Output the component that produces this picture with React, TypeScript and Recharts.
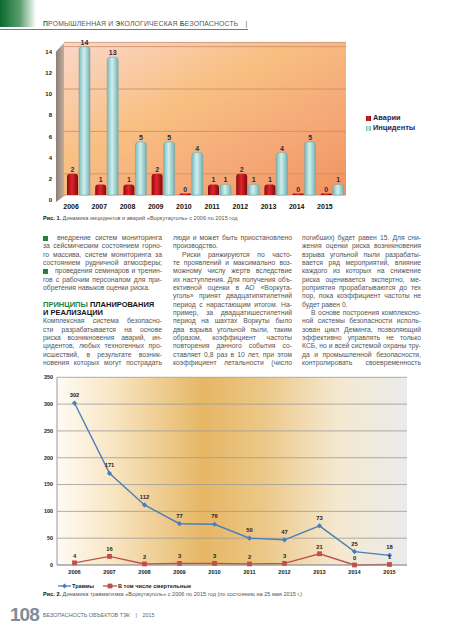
import type { ReactNode } from "react";
import {
  Bar,
  BarChart,
  CartesianGrid,
  LabelList,
  Legend,
  Line,
  LineChart,
  XAxis,
  YAxis,
} from "recharts";

const years = ["2006", "2007", "2008", "2009", "2010", "2011", "2012", "2013", "2014", "2015"];
const accidents = [2, 1, 1, 2, 0, 1, 2, 1, 0, 0];
const incidents = [14, 13, 5, 5, 4, 1, 1, 4, 5, 1];
const injuries = [302, 171, 112, 77, 76, 50, 47, 73, 25, 18];
const fatalInjuries = [4, 16, 2, 3, 3, 2, 3, 21, 0, 1];
const barTicks = [0, 2, 4, 6, 8, 10, 12, 14];
const lineTicks = [0, 50, 100, 150, 200, 250, 300, 350];

const barData = years.map((year, i) => ({ year, accidents: accidents[i], incidents: incidents[i] }));
const lineData = years.map((year, i) => ({ year, injuries: injuries[i], fatal: fatalInjuries[i] }));

const FONT = "'Liberation Sans', Arial, sans-serif";
const NARROW = "'Liberation Sans Narrow', 'Arial Narrow', 'Liberation Sans', sans-serif";
const GREEN = "#23823f";
const LINE_H = 8.33;

interface TextLine {
  text: string;
  end?: boolean;
  indent?: boolean;
  bullet?: boolean;
  head?: ReactNode;
}

const column1: TextLine[] = [
  { text: "внедрение систем мониторинга", bullet: true },
  { text: "за сейсмическим состоянием горно-" },
  { text: "го массива, систем мониторинга за" },
  { text: "состоянием рудничной атмосферы;" },
  { text: "проведения семинаров и тренин-", bullet: true },
  { text: "гов с рабочим персоналом для при-" },
  { text: "обретения навыков оценки риска.", end: true },
  { text: "", end: true },
  { text: "", head: <><span style={{ color: GREEN }}>ПРИНЦИПЫ</span> ПЛАНИРОВАНИЯ</> },
  { text: "", head: "И РЕАЛИЗАЦИИ" },
  { text: "Комплексная система безопасно-" },
  { text: "сти разрабатывается на основе" },
  { text: "риска возникновения аварий, ин-" },
  { text: "цидентов, любых техногенных про-" },
  { text: "исшествий, в результате возник-" },
  { text: "новения которых могут пострадать" },
];

const column2: TextLine[] = [
  { text: "люди и может быть приостановлено" },
  { text: "производство.", end: true },
  { text: "Риски ранжируются по часто-", indent: true },
  { text: "те проявлений и максимально воз-" },
  { text: "можному числу жертв вследствие" },
  { text: "их наступления. Для получения объ-" },
  { text: "ективной оценки в АО «Воркута-" },
  { text: "уголь» принят двадцатипятилетний" },
  { text: "период с нарастающим итогом. На-" },
  { text: "пример, за двадцатишестилетний" },
  { text: "период на шахтах Воркуты было" },
  { text: "два взрыва угольной пыли, таким" },
  { text: "образом, коэффициент частоты" },
  { text: "повторения данного события со-" },
  { text: "ставляет 0,8 раз в 10 лет, при этом" },
  { text: "коэффициент летальности (число" },
];

const column3: TextLine[] = [
  { text: "погибших) будет равен 15. Для сни-" },
  { text: "жения оценки риска возникновения" },
  { text: "взрыва угольной пыли разрабаты-" },
  { text: "вается ряд мероприятий, влияние" },
  { text: "каждого из которых на снижение" },
  { text: "риска оценивается экспертно, ме-" },
  { text: "роприятия прорабатываются до тех" },
  { text: "пор, пока коэффициент частоты не" },
  { text: "будет равен 0.", end: true },
  { text: "В основе построения комплексно-", indent: true },
  { text: "ной системы безопасности исполь-" },
  { text: "зован цикл Деминга, позволяющий" },
  { text: "эффективно управлять не только" },
  { text: "КСБ, но и всей системой охраны тру-" },
  { text: "да и промышленной безопасности," },
  { text: "контролировать своевременность" },
];

function TextColumn({ left, lines }: { left: number; lines: TextLine[] }) {
  return (
    <div style={{ position: "absolute", left, top: 234.1, width: 119 }}>
      {lines.map((line, i) =>
        line.head ? (
          <div
            key={i}
            style={{ height: LINE_H, lineHeight: `${LINE_H}px`, fontSize: 7.5, fontWeight: 700, color: "#161616", whiteSpace: "nowrap" }}
          >
            {line.head}
          </div>
        ) : (
          <div
            key={i}
            style={{
              height: LINE_H,
              lineHeight: `${LINE_H}px`,
              fontSize: 6.8,
              color: "#555",
              display: "flex",
              alignItems: "center",
              justifyContent: line.end ? "flex-start" : "space-between",
              gap: line.end ? "0.28em" : 0,
              paddingLeft: line.indent ? 9 : 0,
              whiteSpace: "nowrap",
            }}
          >
            {line.bullet && (
              <span style={{ display: "inline-block", width: 4.5, height: 4.5, background: GREEN, marginRight: 5 }} />
            )}
            {line.text
              .split(" ")
              .filter((w) => w.length > 0)
              .map((word, j) => (
                <span key={j}>{word}</span>
              ))}
          </div>
        )
      )}
    </div>
  );
}

function Diamond(props: any) {
  const { cx, cy } = props;
  if (cx == null || cy == null) return null;
  return <path d={`M${cx},${cy - 2.6}L${cx + 2.6},${cy}L${cx},${cy + 2.6}L${cx - 2.6},${cy}Z`} fill="#4a7ebb" />;
}

function Square(props: any) {
  const { cx, cy } = props;
  if (cx == null || cy == null) return null;
  return <rect x={cx - 2.4} y={cy - 2.4} width={4.8} height={4.8} fill="#c0504d" />;
}

function LineLegend() {
  return (
    <div style={{ display: "flex", alignItems: "center", fontFamily: FONT, fontSize: 5.6, fontWeight: 700, color: "#222" }}>
      <svg width={13} height={6}>
        <line x1={0} y1={3} x2={13} y2={3} stroke="#4a7ebb" strokeWidth={1.3} />
        <path d="M6.5,0.6L8.9,3L6.5,5.4L4.1,3Z" fill="#4a7ebb" />
      </svg>
      <span style={{ marginLeft: 1, marginRight: 9 }}>Травмы</span>
      <svg width={14} height={6}>
        <line x1={0} y1={3} x2={14} y2={3} stroke="#c0504d" strokeWidth={1.3} />
        <rect x={4.6} y={0.6} width={4.8} height={4.8} fill="#c0504d" />
      </svg>
      <span style={{ marginLeft: 1 }}>В том числе смертельные</span>
    </div>
  );
}

export default function App() {
  return (
    <div
      style={{
        position: "absolute",
        left: 0,
        top: 0,
        width: 453,
        height: 640,
        overflow: "hidden",
        background: "#fff",
        fontFamily: FONT,
      }}
    >
      {/* page header */}
      <div
        style={{
          position: "absolute",
          left: 0,
          top: 0,
          width: 36,
          height: 27,
          background: "linear-gradient(90deg, #0a6a2c 0%, #5a9e6e 55%, #ffffff 100%)",
        }}
      />
      <div
        style={{
          position: "absolute",
          left: 43,
          top: 19.5,
          fontSize: 6.8,
          color: "#555",
          whiteSpace: "nowrap",
          letterSpacing: 0.2,
        }}
      >
        <span style={{ color: GREEN, fontWeight: 700 }}>П</span>РОМЫШЛЕННАЯ И{" "}
        <span style={{ color: GREEN, fontWeight: 700 }}>Э</span>КОЛОГИЧЕСКАЯ{" "}
        <span style={{ color: GREEN, fontWeight: 700 }}>Б</span>ЕЗОПАСНОСТЬ
        <span style={{ marginLeft: 7 }}>|</span>
      </div>
      <div style={{ position: "absolute", left: 0, top: 28.5, width: 248, height: 1, background: "#777" }} />

      {/* fig 1 side wall */}
      <div
        style={{
          position: "absolute",
          left: 56,
          top: 42,
          width: 9,
          height: 160,
          background: "linear-gradient(90deg, #8f7d73 0%, #c9b3a3 100%)",
          clipPath: "polygon(0 6%, 100% 0, 100% 96%, 0 100%)",
        }}
      />
      <div style={{ position: "absolute", left: 0, top: 0 }}>
        <BarChart
          width={453}
          height={215}
          data={barData}
          margin={{ top: 42.4, right: 107, bottom: 0, left: 44 }}
          barSize={11}
          barGap={1}
        >
          <defs>
            <linearGradient id="wall1" x1="0" y1="0" x2="1" y2="1">
              <stop offset="0%" stopColor="#fbd7c9" />
              <stop offset="40%" stopColor="#f8bf82" />
              <stop offset="70%" stopColor="#f5a977" />
              <stop offset="100%" stopColor="#f1935f" />
            </linearGradient>
            <linearGradient id="redBar" x1="0" y1="0" x2="1" y2="0">
              <stop offset="0%" stopColor="#8a0b10" />
              <stop offset="45%" stopColor="#e0262b" />
              <stop offset="100%" stopColor="#7d0a0e" />
            </linearGradient>
            <linearGradient id="cyanBar" x1="0" y1="0" x2="1" y2="0">
              <stop offset="0%" stopColor="#7fb9ba" />
              <stop offset="45%" stopColor="#cdf0ef" />
              <stop offset="100%" stopColor="#78b1b2" />
            </linearGradient>
          </defs>
          <CartesianGrid vertical={false} stroke="#c88c6c" strokeWidth={0.8} fill="url(#wall1)" />
          <XAxis
            dataKey="year"
            height={20}
            axisLine={false}
            tickLine={false}
            interval={0}
            tick={{ fontSize: 7, fontWeight: 700, fill: "#111", fontFamily: FONT, dx: -7, dy: 1 }}
          />
          <YAxis
            width={20}
            domain={[0, 14.4]}
            ticks={barTicks}
            axisLine={false}
            tickLine={false}
            tick={{ fontSize: 6, fontWeight: 700, fill: "#222", fontFamily: FONT, dx: -4, dy: 5 }}
          />
          <Legend
            layout="vertical"
            align="center"
            verticalAlign="middle"
            iconType="square"
            iconSize={5}
            wrapperStyle={{ left: 366, top: 113, width: 80, fontFamily: FONT, fontSize: 7.4, fontWeight: 700, lineHeight: "10px" }}
            formatter={(value: string) => <span style={{ color: "#24245a", marginLeft: -2 }}>{value}</span>}
          />
          <Bar dataKey="accidents" name="Аварии" fill="url(#redBar)" legendType="square" minPointSize={1.5} isAnimationActive={false} radius={[3, 3, 0, 0]}>
            <LabelList dataKey="accidents" position="top" offset={2} style={{ fontSize: 7, fontWeight: 700, fill: "#2a2a48", fontFamily: FONT }} />
          </Bar>
          <Bar dataKey="incidents" name="Инциденты" fill="url(#cyanBar)" stroke="#6aa3a4" strokeWidth={0.5} isAnimationActive={false} radius={[3, 3, 0, 0]}>
            <LabelList dataKey="incidents" position="top" offset={2} style={{ fontSize: 7, fontWeight: 700, fill: "#2a2a48", fontFamily: FONT }} />
          </Bar>
        </BarChart>
      </div>
      <div style={{ position: "absolute", left: 43, top: 215, fontSize: 5.6, whiteSpace: "nowrap", fontFamily: NARROW, color: "#555" }}>
        <b style={{ color: "#111", fontFamily: FONT }}>Рис. 1.</b> Динамика инцидентов и аварий «Воркутауголь» с 2006 по 2015 год
      </div>

      <TextColumn left={43} lines={column1} />
      <TextColumn left={173} lines={column2} />
      <TextColumn left={302} lines={column3} />

      {/* fig 2 */}
      <div style={{ position: "absolute", left: 0, top: 360 }}>
        <LineChart width={453} height={240} data={lineData} margin={{ top: 17.3, right: 46, bottom: 19, left: 37 }}>
          <defs>
            <linearGradient id="wall2" x1="0" y1="0" x2="1" y2="0">
              <stop offset="0%" stopColor="#fefbf4" />
              <stop offset="15%" stopColor="#f9e7c6" />
              <stop offset="42%" stopColor="#e6b664" />
              <stop offset="60%" stopColor="#ecc98a" />
              <stop offset="80%" stopColor="#f5e8cf" />
              <stop offset="100%" stopColor="#ebebeb" />
            </linearGradient>
          </defs>
          <CartesianGrid vertical={false} stroke="#9a9a9a" strokeWidth={0.8} fill="url(#wall2)" />
          <XAxis
            dataKey="year"
            scale="band"
            height={16}
            interval={0}
            axisLine={{ stroke: "#999" }}
            tickLine={false}
            tick={{ fontSize: 5.6, fontWeight: 700, fill: "#222", fontFamily: NARROW, dy: -3 }}
          />
          <YAxis
            width={20}
            domain={[0, 350]}
            ticks={lineTicks}
            axisLine={{ stroke: "#999" }}
            tickLine={false}
            tick={{ fontSize: 5.4, fontWeight: 700, fill: "#222", fontFamily: NARROW, dx: 4 }}
          />
          <Legend
            layout="horizontal"
            align="center"
            verticalAlign="middle"
            wrapperStyle={{ left: 58, top: 223 }}
            content={() => <LineLegend />}
          />
          <Line dataKey="injuries" name="Травмы" stroke="#4a7ebb" strokeWidth={1.4} dot={<Diamond />} isAnimationActive={false}>
            <LabelList dataKey="injuries" position="top" offset={6} style={{ fontSize: 5.8, fontWeight: 700, fill: "#222", fontFamily: NARROW }} />
          </Line>
          <Line dataKey="fatal" name="В том числе смертельные" stroke="#c0504d" strokeWidth={1.4} dot={<Square />} isAnimationActive={false}>
            <LabelList dataKey="fatal" position="top" offset={5} style={{ fontSize: 5.8, fontWeight: 700, fill: "#222", fontFamily: NARROW }} />
          </Line>
        </LineChart>
      </div>
      <div style={{ position: "absolute", left: 43, top: 591, fontSize: 5.6, whiteSpace: "nowrap", fontFamily: NARROW, color: "#555" }}>
        <b style={{ color: "#111", fontFamily: FONT }}>Рис. 2.</b> Динамика травматизма «Воркутауголь» с 2006 по 2015 год (по состоянию на 25 мая 2015 г.)
      </div>

      {/* footer */}
      <div style={{ position: "absolute", left: 10, top: 604, fontSize: 19, fontWeight: 700, color: "#7e8e98", letterSpacing: -1 }}>108</div>
      <div style={{ position: "absolute", left: 43, top: 612, fontSize: 5.4, color: "#666", whiteSpace: "nowrap" }}>
        БЕЗОПАСНОСТЬ ОБЪЕКТОВ ТЭК <span style={{ margin: "0 4px" }}>|</span> 2015
      </div>
    </div>
  );
}
